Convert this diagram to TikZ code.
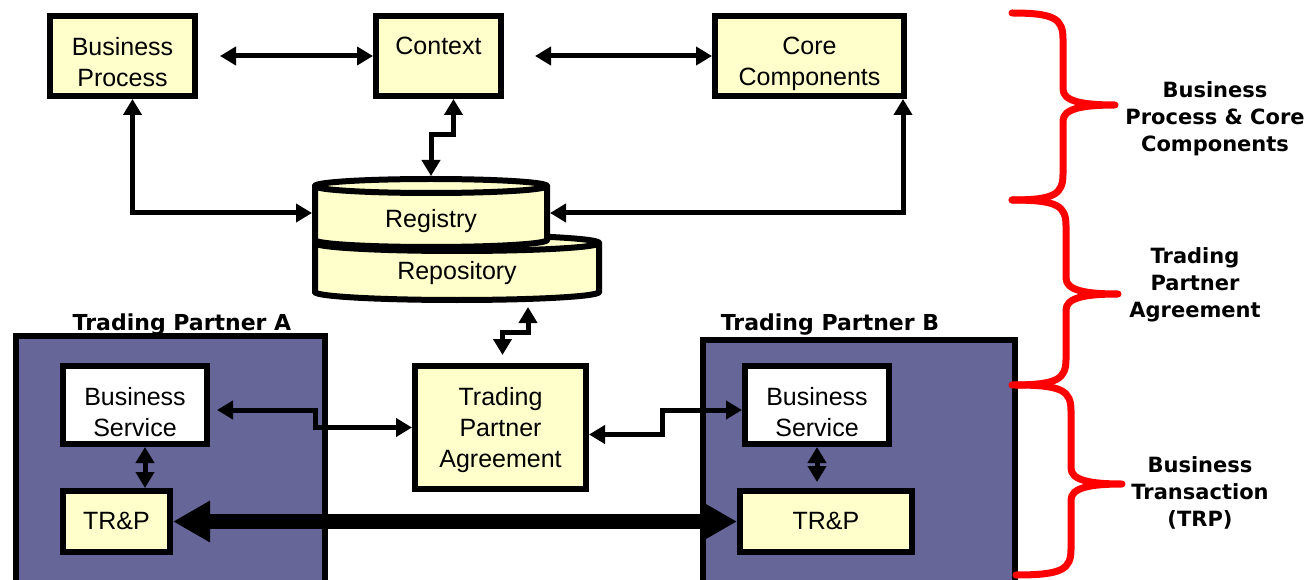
\documentclass[tikz,border=0pt]{standalone}
\usepackage{fontspec}
\setmainfont{Liberation Sans}
\newfontfamily\etiqfont{DejaVu Sans}
\usetikzlibrary{arrows.meta}
\definecolor{jaunepale}{RGB}{255,255,204}
\definecolor{violetpart}{RGB}{102,102,153}
\tikzstyle{bord}=[line width=6pt]
\tikzstyle{boite}=[draw,bord,fill=jaunepale,inner sep=0]
\tikzstyle{blanche}=[boite,fill=white]
\tikzstyle{partenaire}=[draw,bord,fill=violetpart,inner sep=0]
\tikzstyle{socle}=[inner sep=0,outer sep=0]
\tikzstyle{texte}=[inner sep=0,align=center,font=\fontsize{25}{31}\selectfont]
\tikzstyle{titre}=[inner sep=0,align=center,font=\etiqfont\bfseries\fontsize{22}{27}\selectfont]
\tikzstyle{etiq}=[titre,font=\etiqfont\bfseries\fontsize{21}{27}\selectfont]
\tikzstyle{lien}=[line width=5pt,<->]
\tikzstyle{accol}=[red,line width=7pt,line join=round,line cap=round]
% boite : style, nom, centre, largeur, hauteur, texte
\newcommand{\caisse}[6]{
  \node[#1,minimum width=#4pt,minimum height=#5pt] (#2) at #3 {};
  \node[texte,anchor=north] (#2t) at ([yshift=-24pt]#2.north) {#6};
}
% cylindre : centre x, haut, bas, rayon x, rayon y
\newcommand{\cylindre}[5]{
  \path[draw,bord,fill=jaunepale] (#1-#4,#2) -- (#1-#4,#3) arc (180:360:#4pt and #5pt)
     -- (#1+#4,#2) arc (0:180:#4pt and #5pt) -- cycle;
  \draw[bord] (#1-#4,#2) arc (180:360:#4pt and #5pt);
}
% accolade : x bout, x trait, x pointe, haut, pointe, bas
\newcommand{\accolade}[6]{
  \draw[accol] (#1,#4) .. controls (#2-8,#4) and (#2,#4-6) .. (#2,#4-26)
     -- (#2,#5+16) .. controls (#2,#5+4) and (#2+18,#5) .. (#3,#5)
     .. controls (#2+18,#5) and (#2,#5-4) .. (#2,#5-16)
     -- (#2,#6+26) .. controls (#2,#6+6) and (#2-8,#6) .. (#1,#6);
}
\begin{document}
\begin{tikzpicture}[x=1pt,y=1pt,>={Triangle[length=16pt,width=18pt]}]
\useasboundingbox (0,0) rectangle (1308,579);
\clip (0,0) rectangle (1308,579);

%partenaires
\node[partenaire,minimum width=309pt,minimum height=253pt] (partA) at (170.5,116.5) {};
\node[partenaire,minimum width=312pt,minimum height=249pt] (partB) at (859,114.5) {};
\node[titre,anchor=base] (titA) at (182,249) {Trading Partner A};
\node[titre,anchor=base] (titB) at (830,249) {Trading Partner B};

%boites
\caisse{boite}{bp}{(122.5,523)}{145}{80}{Business\\Process}
\caisse{boite}{ctx}{(438.5,523)}{125}{80}{Context}
\caisse{boite}{core}{(809.5,523)}{189}{80}{Core\\Components}
\caisse{boite}{tpa}{(500.5,151.5)}{171}{123}{Trading\\Partner\\Agreement}
\caisse{blanche}{bsA}{(135,174)}{144}{78}{Business\\Service}
\caisse{boite}{trpA}{(116.5,57.5)}{107}{61}{TR\&P}
\caisse{blanche}{bsB}{(817,174)}{144}{78}{Business\\Service}
\caisse{boite}{trpB}{(826,57.5)}{172}{61}{TR\&P}

%registry et repository
\cylindre{457}{336}{287}{142}{8}
\cylindre{431}{393}{339}{116}{7}
\node[socle,minimum width=290pt,minimum height=71pt] (repo) at (457,311.5) {};
\node[socle,minimum width=238pt,minimum height=74pt] (reg) at (431,366) {};
\node[texte,anchor=base] (regt) at (431,351) {Registry};
\node[texte,anchor=base] (repot) at (457,299) {Repository};

%liens
\draw[lien] ([xshift=22pt]bp.east) -- (ctx.west);
\draw[lien] ([xshift=31pt]ctx.east) -- (core.west);
\draw[lien] ([xshift=10pt]bp.south) |- (reg.west);
\draw[lien] ([xshift=-4pt]core.south east) |- (reg.east);
\draw[lien] ([xshift=15pt]ctx.south) -- ++(0,-36) -| (reg.north);
\draw[lien] ([xshift=71pt,yshift=-4pt]repo.south) -- ++(0,-25) -| ([xshift=2pt,yshift=8pt]tpa.north);
\draw[lien] ([xshift=7pt,yshift=-5pt]bsA.east) -- ++(98,0) |- (tpa.west);
\draw[lien] ([yshift=-7pt]tpa.east) -- ++(73,0) |- ([yshift=-5pt]bsB.west);
\draw[lien] ([xshift=10pt]bsA.south) -- ([xshift=28.5pt]trpA.north);
\draw[lien] (bsB.south) -- ([xshift=-9pt,yshift=6pt]trpB.north);
\draw[line width=15pt,>={Triangle[length=37pt,width=39pt]},<->] (trpA.east) -- (trpB.west);

%accolades
\accolade{1012}{1063}{1115}{566}{474}{379}
\accolade{1012}{1066}{1118}{379}{285}{194}
\accolade{1016}{1071}{1122}{194}{95}{4}
\node[etiq] (lblBP) at (1215,460) {Business\\Process \& Core\\Components};
\node[etiq] (lblTPA) at (1195,294) {Trading\\Partner\\Agreement};
\node[etiq] (lblBT) at (1200,86) {Business\\Transaction\\(TRP)};
\end{tikzpicture}
\end{document}
